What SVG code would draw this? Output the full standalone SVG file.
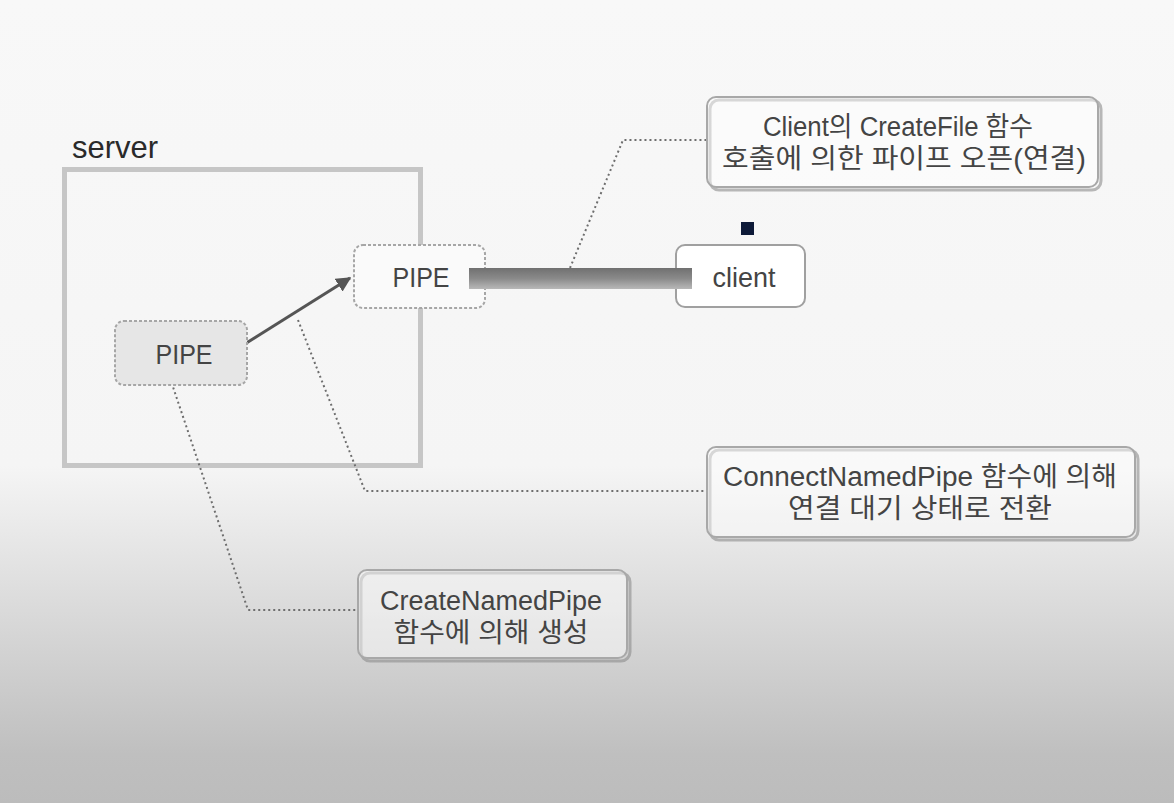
<svg xmlns="http://www.w3.org/2000/svg" width="1174" height="803" viewBox="0 0 1174 803">
<defs>
<linearGradient id="bg" x1="0" y1="0" x2="0" y2="803" gradientUnits="userSpaceOnUse">
<stop offset="0" stop-color="#f8f8f8"/>
<stop offset="0.58" stop-color="#f5f5f5"/>
<stop offset="0.94" stop-color="#bfbfbf"/>
<stop offset="1" stop-color="#bcbcbc"/>
</linearGradient>
<linearGradient id="bar" x1="0" y1="0" x2="0" y2="1">
<stop offset="0" stop-color="#707070"/>
<stop offset="0.5" stop-color="#8a8a8a"/>
<stop offset="1" stop-color="#b8b8b8"/>
</linearGradient>
<marker id="ah" viewBox="0 0 10 10" refX="9" refY="5" markerWidth="5" markerHeight="5" orient="auto" markerUnits="strokeWidth">
<path d="M0,0 L10,5 L0,10 z" fill="#555"/>
</marker>
<style>
text{font-family:"Liberation Sans","Noto Sans CJK KR",Arial,sans-serif;fill:#444444;text-anchor:middle;}
.lbl{font-size:28px;}
.co{font-size:27px;}
.callbox{fill:#ffffff;fill-opacity:0.45;stroke:#a8a8a8;stroke-width:2;}
.shadow{fill:none;stroke:#8c8c8c;stroke-width:3;opacity:0.6;}
.dot{fill:none;stroke:#6e6e6e;stroke-width:2;stroke-dasharray:2 3;}
.pipe{stroke:#a6a6a6;stroke-width:2;stroke-dasharray:3 2;}
</style>
</defs>
<rect x="0" y="0" width="1174" height="803" fill="url(#bg)"/>

<g id="server">
<text x="72" y="158" style="text-anchor:start;font-size:32px;fill:#2a2a2a" textLength="86" lengthAdjust="spacingAndGlyphs">server</text>
<rect x="64.5" y="169.5" width="356" height="296" fill="none" stroke="#c6c6c6" stroke-width="5"/>
</g>

<g id="connectors">
<path class="dot" d="M570,268 L623,140 L707,140"/>
<path class="dot" d="M298,320 L365,491 L707,491"/>
<path class="dot" d="M170,378 L248,610 L358,610"/>
<line x1="232" y1="352" x2="350" y2="278" stroke="#555" stroke-width="3" marker-end="url(#ah)"/>
</g>

<g id="pipe-created">
<rect class="pipe" x="115" y="321" width="132" height="64" rx="9" fill="#e6e6e6"/>
<text class="lbl" x="184" y="364" textLength="57" lengthAdjust="spacingAndGlyphs">PIPE</text>
</g>

<g id="pipe-connected">
<rect class="pipe" x="354" y="245" width="131" height="63" rx="9" fill="#fafafa"/>
<text class="lbl" x="421" y="287" textLength="57" lengthAdjust="spacingAndGlyphs">PIPE</text>
</g>

<g id="client">
<rect x="676" y="245" width="129" height="62" rx="9" fill="#ffffff" stroke="#a0a0a0" stroke-width="2"/>
<text class="lbl" x="744" y="287" textLength="63" lengthAdjust="spacingAndGlyphs">client</text>
<rect x="741" y="222" width="13" height="13" fill="#0d1a38"/>
</g>

<g id="pipe-bar">
<rect x="469" y="268" width="223" height="21" fill="url(#bar)"/>
</g>

<g id="callout-createfile">
<rect class="shadow" x="710" y="100" width="391" height="90" rx="9"/>
<rect class="callbox" x="707" y="97" width="391" height="90" rx="9"/>
<text class="co" x="898" y="136" textLength="270" lengthAdjust="spacingAndGlyphs">Client의 CreateFile 함수</text>
<text class="co" x="904" y="168" textLength="364" lengthAdjust="spacingAndGlyphs">호출에 의한 파이프 오픈(연결)</text>
</g>

<g id="callout-connect">
<rect class="shadow" x="710" y="450" width="428" height="90" rx="9"/>
<rect class="callbox" x="707" y="447" width="428" height="90" rx="9"/>
<text class="co" x="920" y="486" textLength="394" lengthAdjust="spacingAndGlyphs">ConnectNamedPipe 함수에 의해</text>
<text class="co" x="920" y="518" textLength="264" lengthAdjust="spacingAndGlyphs">연결 대기 상태로 전환</text>
</g>

<g id="callout-create">
<rect class="shadow" x="361" y="573" width="269" height="88" rx="9"/>
<rect class="callbox" x="358" y="570" width="269" height="88" rx="9"/>
<text class="co" x="491" y="610" textLength="222" lengthAdjust="spacingAndGlyphs">CreateNamedPipe</text>
<text class="co" x="491" y="642" textLength="195" lengthAdjust="spacingAndGlyphs">함수에 의해 생성</text>
</g>
</svg>
